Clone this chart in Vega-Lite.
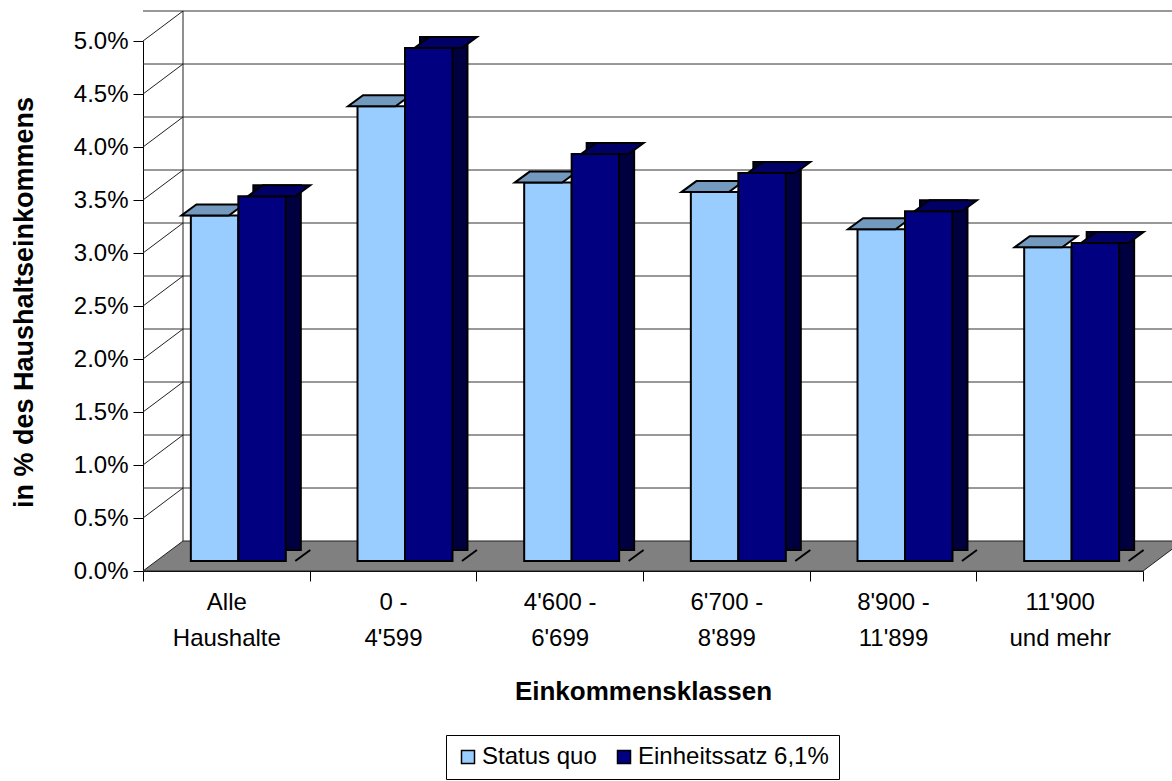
{
  "$schema": "https://vega.github.io/schema/vega-lite/v6.json",
  "autosize": "none",
  "width": 1000,
  "height": 530,
  "padding": {"left": 143, "top": 41, "right": 29, "bottom": 210},
  "background": "white",
  "config": {"view": {"stroke": null}, "font": "Liberation Sans"},
  "resolve": {"scale": {"xOffset": "independent"}},
  "datasets": {
    "grid": [{"v": 0.5}, {"v": 1}, {"v": 1.5}, {"v": 2}, {"v": 2.5}, {"v": 3}, {"v": 3.5}, {"v": 4}, {"v": 4.5}, {"v": 5}],
    "bars": [
      {"klasse": "Alle Haushalte", "serie": "Status quo", "wert": 3.26},
      {"klasse": "Alle Haushalte", "serie": "Einheitssatz 6,1%", "wert": 3.44},
      {"klasse": "0 - 4'599", "serie": "Status quo", "wert": 4.29},
      {"klasse": "0 - 4'599", "serie": "Einheitssatz 6,1%", "wert": 4.84},
      {"klasse": "4'600 - 6'699", "serie": "Status quo", "wert": 3.57},
      {"klasse": "4'600 - 6'699", "serie": "Einheitssatz 6,1%", "wert": 3.84},
      {"klasse": "6'700 - 8'899", "serie": "Status quo", "wert": 3.48},
      {"klasse": "6'700 - 8'899", "serie": "Einheitssatz 6,1%", "wert": 3.66},
      {"klasse": "8'900 - 11'899", "serie": "Status quo", "wert": 3.13},
      {"klasse": "8'900 - 11'899", "serie": "Einheitssatz 6,1%", "wert": 3.30},
      {"klasse": "11'900 und mehr", "serie": "Status quo", "wert": 2.96},
      {"klasse": "11'900 und mehr", "serie": "Einheitssatz 6,1%", "wert": 3.00}
    ]
  },
  "layer": [
    {
      "data": {"values": [{"boden": 0}]},
      "mark": {"type": "point", "shape": "M 0 0 L 100 0 L 104 -3 L 4 -3 Z", "size": 400, "filled": true, "fill": "#808080", "stroke": "#202020", "strokeWidth": 1, "opacity": 1},
      "encoding": {
        "x": {"datum": "Alle Haushalte", "type": "nominal", "bandPosition": 0, "title": "Einkommensklassen",
              "scale": {"domain": ["Alle Haushalte", "0 - 4'599", "4'600 - 6'699", "6'700 - 8'899", "8'900 - 11'899", "11'900 und mehr"], "paddingInner": 0, "paddingOuter": 0}},
        "y": {"field": "boden", "type": "quantitative", "title": "in % des Haushaltseinkommens", "scale": {"domain": [0, 5], "nice": false}}
      }
    },
    {
      "data": {"name": "grid"},
      "mark": {"type": "rule", "xOffset": 40, "x2Offset": 40, "yOffset": -30, "color": "#333333", "strokeWidth": 1},
      "encoding": {
        "y": {"field": "v", "type": "quantitative", "title": "in % des Haushaltseinkommens", "scale": {"domain": [0, 5], "nice": false}}
      }
    },
    {
      "data": {"name": "grid"},
      "mark": {"type": "rule", "x2Offset": 40, "y2Offset": -30, "color": "#202020", "strokeWidth": 1},
      "encoding": {
        "x": {"datum": "Alle Haushalte", "type": "nominal", "bandPosition": 0, "title": "Einkommensklassen"},
        "x2": {"datum": "Alle Haushalte", "bandPosition": 0},
        "y": {"field": "v", "type": "quantitative", "title": "in % des Haushaltseinkommens", "scale": {"domain": [0, 5], "nice": false}},
        "y2": {"field": "v"}
      }
    },
    {
      "data": {"values": [{"a": 0, "b": 5}]},
      "mark": {"type": "rule", "xOffset": 40, "yOffset": -30, "y2Offset": -30, "color": "#202020", "strokeWidth": 1},
      "encoding": {
        "x": {"datum": "Alle Haushalte", "type": "nominal", "bandPosition": 0, "title": "Einkommensklassen"},
        "y": {"field": "a", "type": "quantitative", "title": "in % des Haushaltseinkommens", "scale": {"domain": [0, 5], "nice": false}},
        "y2": {"field": "b"}
      }
    },
    {
      "data": {"name": "bars"},
      "transform": [{"filter": "datum.serie == 'Status quo'"}],
      "mark": {"type": "bar", "yOffset": -10, "y2Offset": -10, "stroke": "black", "strokeWidth": 2, "opacity": 1},
      "encoding": {
        "x": {"field": "klasse", "type": "nominal", "sort": null, "title": "Einkommensklassen",
              "scale": {"domain": ["Alle Haushalte", "0 - 4'599", "4'600 - 6'699", "6'700 - 8'899", "8'900 - 11'899", "11'900 und mehr"], "paddingInner": 0, "paddingOuter": 0},
              "axis": {"title": "Einkommensklassen", "titleFontSize": 26, "titleFontWeight": "bold", "titleColor": "black", "titleFont": "Liberation Sans",
                       "titleBaseline": "alphabetic", "titleY": 128,
                       "labelFontSize": 24, "labelColor": "black", "labelFont": "Liberation Sans", "labelAngle": 0, "labelLineHeight": 36,
                       "labelPadding": 9, "labelBaseline": "top", "labelAlign": "center",
                       "labelExpr": "datum.value == null ? '' : datum.value == \"Alle Haushalte\" ? [\"Alle\", \"Haushalte\"] : datum.value == \"11'900 und mehr\" ? [\"11'900\", \"und mehr\"] : [split(datum.value, \" - \")[0] + \" -\", split(datum.value, \" - \")[1]]",
                       "tickSize": 10, "tickColor": "black", "tickWidth": 1, "tickBand": "extent", "domainColor": "black", "domainWidth": 1, "grid": false}},
        "xOffset": {"field": "serie", "type": "nominal", "scale": {"domain": ["Status quo", "Einheitssatz 6,1%"], "paddingOuter": 0.755, "paddingInner": 0, "range": [12, 178.667]}},
        "y": {"field": "wert", "type": "quantitative", "title": "in % des Haushaltseinkommens", "scale": {"domain": [0, 5], "nice": false},
              "axis": {"title": "in % des Haushaltseinkommens", "titleFontSize": 27, "titleFontWeight": "bold", "titleColor": "black", "titleFont": "Liberation Sans",
                       "titleX": -111, "titleY": 261, "titleBaseline": "alphabetic", "titleAngle": 270,
                       "values": [0, 0.5, 1, 1.5, 2, 2.5, 3, 3.5, 4, 4.5, 5],
                       "labelExpr": "format(datum.value, '.1f') + '%'",
                       "labelFontSize": 24, "labelColor": "black", "labelFont": "Liberation Sans", "labelPadding": 5,
                       "tickSize": 10, "tickColor": "black", "domainColor": "black", "grid": false}},
        "color": {"field": "serie", "type": "nominal",
                  "scale": {"domain": ["Status quo", "Einheitssatz 6,1%"], "range": ["#99CCFF", "#000080"]},
                  "legend": {"title": null, "orient": "none", "legendX": 303, "legendY": 694, "direction": "horizontal",
                             "strokeColor": "black", "fillColor": "white", "padding": 10, "columnPadding": 15, "labelLimit": 0,
                             "symbolType": "square", "symbolSize": 169, "symbolStrokeColor": "black", "symbolStrokeWidth": 1.5, "symbolOpacity": 1,
                             "labelFontSize": 24, "labelFont": "Liberation Sans", "labelColor": "black", "labelOffset": 2}}
      }
    },
    {
      "data": {"name": "bars"},
      "transform": [{"filter": "datum.serie == 'Status quo'"}],
      "mark": {"type": "point", "shape": "M -1.174 -1 L 3.574 -1 L 5.074 -2.1 L 0.326 -2.1 Z", "size": 400, "filled": true, "fill": "#7399BF", "stroke": "black", "strokeWidth": 2, "opacity": 1},
      "encoding": {
        "x": {"field": "klasse", "type": "nominal", "sort": null, "title": "Einkommensklassen"},
        "xOffset": {"field": "serie", "type": "nominal", "scale": {"domain": ["Status quo", "Einheitssatz 6,1%"], "paddingOuter": 0.755, "paddingInner": 0, "range": [0, 166.667]}},
        "y": {"field": "wert", "type": "quantitative", "title": "in % des Haushaltseinkommens", "scale": {"domain": [0, 5], "nice": false}}
      }
    },
    {
      "data": {"name": "bars"},
      "transform": [{"filter": "datum.serie != 'Status quo'"}],
      "mark": {"type": "bar", "yOffset": -21, "y2Offset": -10, "fill": "#000040", "stroke": "black", "strokeWidth": 2, "opacity": 1},
      "encoding": {
        "x": {"field": "klasse", "type": "nominal", "sort": null, "title": "Einkommensklassen"},
        "xOffset": {"field": "serie", "type": "nominal", "scale": {"domain": ["Status quo", "Einheitssatz 6,1%"], "paddingOuter": 0.755, "paddingInner": 0, "range": [27, 193.667]}},
        "y": {"field": "wert", "type": "quantitative", "title": "in % des Haushaltseinkommens", "scale": {"domain": [0, 5], "nice": false}}
      }
    },
    {
      "data": {"name": "bars"},
      "transform": [{"filter": "datum.serie != 'Status quo'"}],
      "mark": {"type": "point", "shape": "M 3.624 -0.88 L 5.074 -2.1 L 5.224 -2.1 L 5.224 -0.88 Z", "size": 400, "filled": true, "fill": "#808080", "strokeWidth": 0, "opacity": 1},
      "encoding": {
        "x": {"field": "klasse", "type": "nominal", "sort": null, "title": "Einkommensklassen"},
        "xOffset": {"field": "serie", "type": "nominal", "scale": {"domain": ["Status quo", "Einheitssatz 6,1%"], "paddingOuter": 0.755, "paddingInner": 0, "range": [0, 166.667]}},
        "y": {"datum": 0, "type": "quantitative", "title": "in % des Haushaltseinkommens", "scale": {"domain": [0, 5], "nice": false}}
      }
    },
    {
      "data": {"name": "bars"},
      "transform": [{"filter": "datum.serie != 'Status quo'"}],
      "mark": {"type": "point", "shape": "M 3.574 -1 L 5.074 -2.1", "size": 400, "filled": false, "stroke": "black", "strokeWidth": 2, "opacity": 1},
      "encoding": {
        "x": {"field": "klasse", "type": "nominal", "sort": null, "title": "Einkommensklassen"},
        "xOffset": {"field": "serie", "type": "nominal", "scale": {"domain": ["Status quo", "Einheitssatz 6,1%"], "paddingOuter": 0.755, "paddingInner": 0, "range": [0, 166.667]}},
        "y": {"datum": 0, "type": "quantitative", "title": "in % des Haushaltseinkommens", "scale": {"domain": [0, 5], "nice": false}}
      }
    },
    {
      "data": {"name": "bars"},
      "transform": [{"filter": "datum.serie != 'Status quo'"}],
      "mark": {"type": "bar", "yOffset": -10, "y2Offset": -10, "stroke": "black", "strokeWidth": 2, "opacity": 1},
      "encoding": {
        "x": {"field": "klasse", "type": "nominal", "sort": null, "title": "Einkommensklassen"},
        "xOffset": {"field": "serie", "type": "nominal", "scale": {"domain": ["Status quo", "Einheitssatz 6,1%"], "paddingOuter": 0.755, "paddingInner": 0, "range": [12, 178.667]}},
        "y": {"field": "wert", "type": "quantitative", "title": "in % des Haushaltseinkommens", "scale": {"domain": [0, 5], "nice": false}},
        "color": {"field": "serie", "type": "nominal"}
      }
    },
    {
      "data": {"name": "bars"},
      "transform": [{"filter": "datum.serie != 'Status quo'"}],
      "mark": {"type": "point", "shape": "M -1.174 -1 L 3.574 -1 L 5.074 -2.1 L 0.326 -2.1 Z", "size": 400, "filled": true, "fill": "#000066", "stroke": "black", "strokeWidth": 2, "opacity": 1},
      "encoding": {
        "x": {"field": "klasse", "type": "nominal", "sort": null, "title": "Einkommensklassen"},
        "xOffset": {"field": "serie", "type": "nominal", "scale": {"domain": ["Status quo", "Einheitssatz 6,1%"], "paddingOuter": 0.755, "paddingInner": 0, "range": [0, 166.667]}},
        "y": {"field": "wert", "type": "quantitative", "title": "in % des Haushaltseinkommens", "scale": {"domain": [0, 5], "nice": false}}
      }
    }
  ]
}
